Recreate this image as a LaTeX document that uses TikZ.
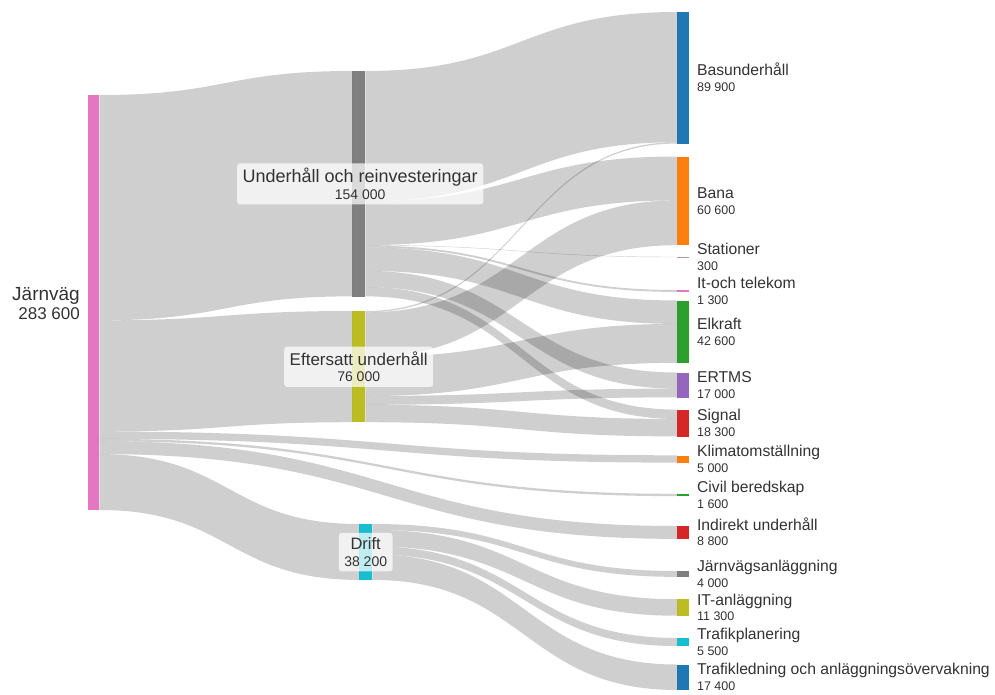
\documentclass[tikz,border=0pt]{standalone}
\usepackage{fontspec}
\setmainfont{Liberation Sans}
\usetikzlibrary{calc}

\definecolor{cBlue}{HTML}{1F77B4}
\definecolor{cOrange}{HTML}{FF7F0E}
\definecolor{cGreen}{HTML}{2CA02C}
\definecolor{cRed}{HTML}{D62728}
\definecolor{cPurple}{HTML}{9467BD}
\definecolor{cBrown}{HTML}{8C564B}
\definecolor{cPink}{HTML}{E377C2}
\definecolor{cGray}{HTML}{7F7F7F}
\definecolor{cOlive}{HTML}{BCBD22}
\definecolor{cCyan}{HTML}{17BECF}
\definecolor{labelc}{HTML}{333333}

% pixels per thousand kronor
\def\kk{1.4633}

\tikzset{
  flow/.style={fill=black, fill opacity=0.19},
  bar/.style={rectangle, inner sep=0pt, minimum width=12pt,
              minimum height={#1*1.4633pt}, anchor=north west},
  nameR/.style={font=\fontsize{15.7}{19}\selectfont, text=labelc, anchor=base west, inner sep=0pt},
  valR/.style={font=\fontsize{12.5}{15}\selectfont, text=labelc, anchor=base west, inner sep=0pt},
  midbox/.style={fill=white, fill opacity=0.72, text opacity=1, rounded corners=3pt,
                 inner xsep=5.5pt, inner ysep=5pt, align=center, text=labelc,
                 font=\fontsize{14}{16.5}\selectfont},
}

% a flow band: source node, offset at source, target node, offset at target, value
\newcommand\band[5]{%
  \fill[flow] let \p1=(#1.north east), \p2=(#3.north west), \n1={0.5*(\x1+\x2)} in
    (\x1,{\y1-(#2)*\kk}) .. controls (\n1,{\y1-(#2)*\kk}) and (\n1,{\y2-(#4)*\kk}) .. (\x2,{\y2-(#4)*\kk})
    -- (\x2,{\y2-(#4+#5)*\kk})
    .. controls (\n1,{\y2-(#4+#5)*\kk}) and (\n1,{\y1-(#2+#5)*\kk}) .. (\x1,{\y1-(#2+#5)*\kk})
    -- cycle;}

% right-hand label: node, name, value
\newcommand\rlab[3]{%
  \node[nameR] (#1-name) at ($(#1.east)+(7.5,-2.5)$) {#2};
  \node[valR] (#1-val) at ($(#1.east)+(7.5,13.3)$) {#3};}

\begin{document}
\begin{tikzpicture}[x=1pt,y=-1pt]
\fill[white] (0,0) rectangle (995,695);
\useasboundingbox (0,0) rectangle (995,695);

% nodes
\node[bar=283.6, fill=cPink, minimum width=11pt] (jv) at (88,95) {};
\node[bar=154, fill=cGray, minimum width=13pt] (uh) at (352,71) {};
\node[bar=76, fill=cOlive, minimum width=13pt] (es) at (352,311) {};
\node[bar=38.2, fill=cCyan, minimum width=13pt] (dr) at (359,524) {};

\node[bar=89.9, fill=cBlue] (bas) at (677,12) {};
\node[bar=60.6, fill=cOrange] (bana) at (677,156.5) {};
\node[bar=0.3, fill=cBrown!60] (stat) at (677,256.8) {};
\node[bar=1.3, fill=cPink] (itt) at (677,290) {};
\node[bar=42.6, fill=cGreen] (elk) at (677,300.5) {};
\node[bar=17, fill=cPurple] (ert) at (677,372.5) {};
\node[bar=18.3, fill=cRed] (sig) at (677,409.6) {};
\node[bar=5, fill=cOrange] (kli) at (677,455.3) {};
\node[bar=1.6, fill=cGreen] (civ) at (677,493.8) {};
\node[bar=8.8, fill=cRed] (ind) at (677,526) {};
\node[bar=4, fill=cGray] (jva) at (677,571) {};
\node[bar=11.3, fill=cOlive] (ita) at (677,599.2) {};
\node[bar=5.5, fill=cCyan] (tpl) at (677,638) {};
\node[bar=17.4, fill=cBlue] (tle) at (677,664.5) {};

% flows
\begin{scope}
\band{jv}{0}{uh}{0}{154}
\band{jv}{154}{es}{0}{76}
\band{jv}{230}{kli}{0}{5}
\band{jv}{235}{civ}{0}{1.6}
\band{jv}{236.6}{ind}{0}{8.8}
\band{jv}{245.4}{dr}{0}{38.2}
\band{uh}{0}{bas}{0}{89}
\band{uh}{89}{bana}{0}{30}
\band{uh}{119}{stat}{0}{0.3}
\band{uh}{119.3}{itt}{0}{1.3}
\band{uh}{120.6}{elk}{0}{16}
\band{uh}{136.6}{ert}{0}{11}
\band{uh}{147.6}{sig}{0}{6.4}
\band{es}{0}{bas}{89}{0.9}
\band{es}{0.9}{bana}{30}{30.6}
\band{es}{31.5}{elk}{16}{26.6}
\band{es}{58.1}{ert}{11}{6}
\band{es}{64.1}{sig}{6.4}{11.9}
\band{dr}{0}{jva}{0}{4}
\band{dr}{4}{ita}{0}{11.3}
\band{dr}{15.3}{tpl}{0}{5.5}
\band{dr}{20.8}{tle}{0}{17.4}
\end{scope}

% left label
\node[font=\fontsize{19}{22}\selectfont, text=labelc, anchor=base east, inner sep=0pt]
  (jv-name) at ($(jv.west)+(-8,-2.5)$) {Järnväg};
\node[font=\fontsize{17}{20}\selectfont, text=labelc, anchor=base east, inner sep=0pt]
  (jv-val) at ($(jv.west)+(-8,16.5)$) {283 600};

% middle labels
\node[midbox] (uh-lab) at ($(uh.center)+(1.5,0)$) {{\fontsize{18}{16.5}\selectfont Underhåll och reinvesteringar}\\154 000};
\node[midbox] (es-lab) at (es.center) {{\fontsize{17}{16.5}\selectfont Eftersatt underhåll}\\76 000};
\node[midbox] (dr-lab) at (dr.center) {{\fontsize{16.5}{16.5}\selectfont Drift}\\38 200};

% right labels
\rlab{bas}{Basunderhåll}{89 900}
\rlab{bana}{Bana}{60 600}
\rlab{stat}{Stationer}{300}
\rlab{itt}{It-och telekom}{1 300}
\rlab{elk}{Elkraft}{42 600}
\rlab{ert}{ERTMS}{17 000}
\rlab{sig}{Signal}{18 300}
\rlab{kli}{Klimatomställning}{5 000}
\rlab{civ}{Civil beredskap}{1 600}
\rlab{ind}{Indirekt underhåll}{8 800}
\rlab{jva}{Järnvägsanläggning}{4 000}
\rlab{ita}{IT-anläggning}{11 300}
\rlab{tpl}{Trafikplanering}{5 500}
\rlab{tle}{Trafikledning och anläggningsövervakning}{17 400}
\end{tikzpicture}
\end{document}
